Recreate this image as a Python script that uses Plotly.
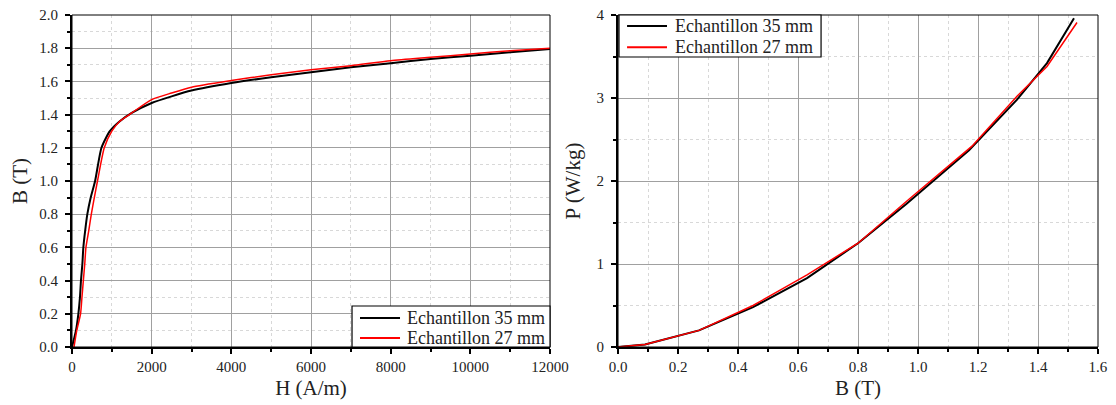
import plotly.graph_objects as go

# Left: B-H curves
H35 = [0, 100, 160, 200, 225, 260, 285, 330, 385, 470, 580, 740, 950, 1200, 1500, 2000, 2500, 3000, 4000, 5000, 6000, 7000, 8000, 9000, 10000, 11000, 12000]
B35 = [0, 0.1, 0.2, 0.3, 0.4, 0.5, 0.6, 0.7, 0.8, 0.9, 1.0, 1.2, 1.3, 1.36, 1.41, 1.47, 1.51, 1.545, 1.59, 1.625, 1.655, 1.685, 1.71, 1.735, 1.755, 1.775, 1.795]
H27 = [50, 120, 215, 250, 285, 320, 350, 420, 485, 560, 640, 810, 1000, 1200, 1500, 2000, 2500, 3000, 4000, 5000, 6000, 7000, 8000, 9000, 10000, 11000, 12000]
B27 = [0, 0.1, 0.2, 0.3, 0.4, 0.5, 0.6, 0.7, 0.8, 0.9, 1.0, 1.2, 1.3, 1.36, 1.41, 1.49, 1.53, 1.565, 1.605, 1.64, 1.67, 1.695, 1.725, 1.745, 1.765, 1.785, 1.80]

# Right: P-B curves
Bp35 = [0, 0.09, 0.27, 0.45, 0.63, 0.80, 0.96, 1.17, 1.33, 1.43, 1.52]
P35 = [0, 0.03, 0.20, 0.48, 0.83, 1.25, 1.72, 2.37, 2.98, 3.42, 3.96]
Bp27 = [0, 0.09, 0.27, 0.45, 0.63, 0.80, 0.96, 1.18, 1.33, 1.43, 1.53]
P27 = [0, 0.03, 0.20, 0.50, 0.87, 1.25, 1.75, 2.42, 3.02, 3.38, 3.91]

names = ["Echantillon 35 mm", "Echantillon 27 mm"]
colors = ["black", "red"]

FONT = "Liberation Serif, Times New Roman, serif"
fig = go.Figure()
fig.add_trace(go.Scatter(x=H35, y=B35, mode="lines", name=names[0], line=dict(color=colors[0], width=2, shape="spline", smoothing=0.6), xaxis="x", yaxis="y"))
fig.add_trace(go.Scatter(x=H27, y=B27, mode="lines", name=names[1], line=dict(color=colors[1], width=1.5, shape="spline", smoothing=0.6), xaxis="x", yaxis="y"))
fig.add_trace(go.Scatter(x=Bp35, y=P35, mode="lines", name=names[0], line=dict(color=colors[0], width=2), xaxis="x2", yaxis="y2"))
fig.add_trace(go.Scatter(x=Bp27, y=P27, mode="lines", name=names[1], line=dict(color=colors[1], width=1.5), xaxis="x2", yaxis="y2"))

d1 = [0, 0.4659]
d2 = [0.5322, 1]

def ax(**kw):
    base = dict(showline=True, linecolor="black", linewidth=2, mirror=False, automargin=False,
                ticks="outside", ticklen=5, tickcolor="black", tickwidth=1.5,
                ticklabeloverflow="allow",
                showgrid=True, gridcolor="#a0a0a0", gridwidth=1, zeroline=False,
                tickfont=dict(family=FONT, size=15, color="#222"),
                title_font=dict(family=FONT, size=21, color="#222"),
                minor=dict(ticks="outside", ticklen=3, tickcolor="black", showgrid=True,
                           gridcolor="#d8d8d8", griddash="dot", gridwidth=1))
    base.update(kw)
    return base

# page body has an 8px margin, so the figure is sized/offset to land where the reference plots are
fig.update_layout(
    width=1108, height=397,
    margin=dict(l=64, r=18, t=7, b=58, autoexpand=False),
    paper_bgcolor="white", plot_bgcolor="white",
    font=dict(family=FONT, color="#222"),
    showlegend=False,
    xaxis=ax(domain=d1, range=[0, 12000], dtick=2000, minor_dtick=1000, tickformat="d", title_text="H (A/m)", title_standoff=6, anchor="y"),
    yaxis=ax(range=[0, 2.0], dtick=0.2, minor_dtick=0.1, tickformat=".1f", title_text="B (T)", title_standoff=12, anchor="x", ticklabelstandoff=4),
    xaxis2=ax(domain=d2, range=[0, 1.6], dtick=0.2, minor_dtick=0.1, tickformat=".1f", title_text="B (T)", title_standoff=6, anchor="y2"),
    yaxis2=ax(range=[0, 4], dtick=1, minor_dtick=0.5, title_text="P (W/kg)", title_standoff=10, anchor="x2", ticklabelstandoff=4),
)

for xr, yr in [("x", "y"), ("x2", "y2")]:
    fig.add_shape(type="rect", xref=f"{xr} domain", yref=f"{yr} domain", x0=0, x1=1, y0=0, y1=1,
                  line=dict(color="black", width=1), layer="above")

# custom legends (box, line samples, labels)
legends = [
    dict(xr="x", yr="y", box=(0.5858, 1.0, 0.0, 0.1235), lx=(0.6025, 0.6862), tx=0.6967, rows=(0.0873, 0.0271)),
    dict(xr="x2", yr="y2", box=(0.002, 0.423, 0.8735, 1.0), lx=(0.0188, 0.102), tx=0.1146, rows=(0.967, 0.9026)),
]
for lg in legends:
    xr, yr = f"{lg['xr']} domain", f"{lg['yr']} domain"
    x0, x1, y0, y1 = lg["box"]
    fig.add_shape(type="rect", xref=xr, yref=yr, x0=x0, x1=x1, y0=y0, y1=y1,
                  line=dict(color="black", width=1.2), fillcolor="white", layer="above")
    for name, col, ry in zip(names, colors, lg["rows"]):
        fig.add_shape(type="line", xref=xr, yref=yr, x0=lg["lx"][0], x1=lg["lx"][1], y0=ry, y1=ry,
                      line=dict(color=col, width=2), layer="above")
        fig.add_annotation(xref=xr, yref=yr, x=lg["tx"], y=ry, text=name, showarrow=False,
                           xanchor="left", yanchor="middle", font=dict(family=FONT, size=18, color="#222"))

fig.write_html("out.html")
